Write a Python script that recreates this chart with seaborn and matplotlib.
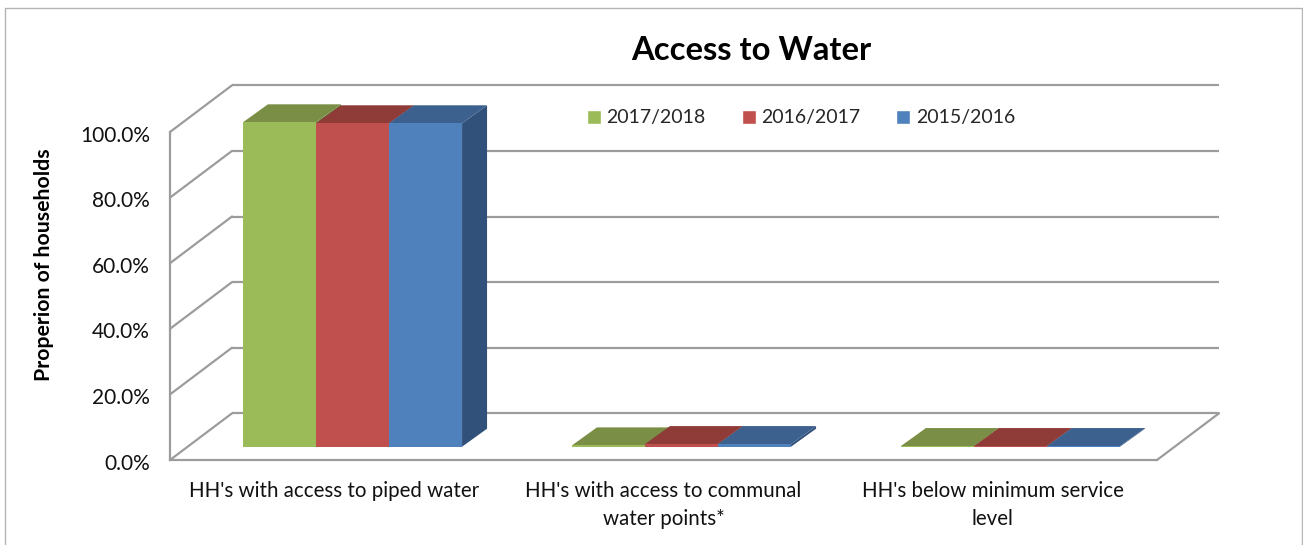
import pandas as pd
import matplotlib
matplotlib.use("Agg")
import matplotlib.pyplot as plt
import seaborn as sns
from matplotlib.lines import Line2D
from matplotlib.patches import Patch, Polygon
from matplotlib.transforms import ScaledTranslation

categories = ["HH's with access to piped water",
              "HH's with access to communal\nwater points*",
              "HH's below minimum service\nlevel"]
years = ["2017/2018", "2016/2017", "2015/2016"]
values_2017 = [98.9, 0.4, 0.2]
values_2016 = [98.6, 0.8, 0.2]
values_2015 = [98.6, 0.8, 0.2]
y_ticks = [0, 20, 40, 60, 80, 100]
y_labels = ["0.0%", "20.0%", "40.0%", "60.0%", "80.0%", "100.0%"]

front_colors = ["#9BBB59", "#C0504D", "#4F81BD"]
top_colors = ["#7A8F45", "#8F3C39", "#3C618F"]
side_colors = ["#667A3A", "#7A3230", "#31507A"]
line_color = "#9c9c9c"

sns.set_theme(style="white")
plt.rcParams['font.family'] = ['Lato', 'DejaVu Sans']

df = pd.DataFrame({
    'category': categories * 3,
    'year': [y for y in years for _ in categories],
    'value': values_2017 + values_2016 + values_2015,
})

fig = plt.figure(figsize=(13.03, 5.45), dpi=100)
ax = fig.add_axes([170 / 1303, 1 - 460 / 545, 987 / 1303, 328 / 545])

sns.barplot(data=df, x='category', y='value', hue='year', hue_order=years,
            palette=front_colors, width=0.666, gap=0, legend=False,
            saturation=1, ax=ax, zorder=5)
ax.set_xlim(-0.5, 2.5)
ax.set_ylim(0, 100)

# depth of the fake 3D, in data units
wall_dx = 62 / 329
wall_dy = 46.7 / 3.28
bar_shift_x = 18 / 329
bar_shift_y = 13.3 / 3.28
bar_dx = 25 / 329
bar_dy = 18 / 3.28

# back wall, side wall and floor
for t in y_ticks:
    ax.plot([-0.5 + wall_dx, 2.5 + wall_dx], [t + wall_dy, t + wall_dy], color=line_color,
            lw=1.6, clip_on=False, zorder=1, solid_capstyle='butt')
    ax.plot([-0.5, -0.5 + wall_dx], [t, t + wall_dy], color=line_color,
            lw=1.6, clip_on=False, zorder=1)
ax.plot([2.5, 2.5 + wall_dx], [0, wall_dy], color=line_color, lw=1.6, clip_on=False, zorder=1)

# bars: move to middle of floor, add top and side faces
for i, container in enumerate(ax.containers):
    for bar in container:
        bar.set_x(bar.get_x() + bar_shift_x)
        bar.set_y(bar_shift_y)
        bar.set_clip_on(False)
        bar.set_edgecolor('none')
        x0 = bar.get_x()
        x1 = x0 + bar.get_width()
        y0 = bar.get_y()
        y1 = y0 + bar.get_height()
        ax.add_patch(Polygon([(x1, y0), (x1 + bar_dx, y0 + bar_dy), (x1 + bar_dx, y1 + bar_dy), (x1, y1)],
                             facecolor=side_colors[i], edgecolor='none', clip_on=False, zorder=4))
        ax.add_patch(Polygon([(x0, y1), (x1, y1), (x1 + bar_dx, y1 + bar_dy), (x0 + bar_dx, y1 + bar_dy)],
                             facecolor=top_colors[i], edgecolor='none', clip_on=False, zorder=4.5))

sns.despine(ax=ax, top=True, right=True)
for s in ['left', 'bottom']:
    ax.spines[s].set_color(line_color)
    ax.spines[s].set_linewidth(1.6)
    ax.spines[s].set_zorder(2)

ax.set_yticks(y_ticks)
ax.set_yticklabels(y_labels)
ax.tick_params(axis='y', length=0, pad=14.4, labelsize=15, labelcolor='#111111')
ax.tick_params(axis='x', length=0, pad=15, labelsize=14.8, labelcolor='#111111')
for lab in ax.get_xticklabels():
    lab.set_linespacing(1.5)
# y labels sit a little under their tick in the original
for lab in ax.get_yticklabels():
    lab.set_transform(lab.get_transform() + ScaledTranslation(0, -0.015, fig.dpi_scale_trans))
ax.set_xlabel("")
ax.set_ylabel("")

fig.text(44 / 1303, 1 - 265 / 545, "Properion of households", rotation=90, ha='center', va='center',
         fontsize=15.3, fontweight='bold', color='black')
fig.text(751 / 1303, 1 - 50 / 545, "Access to Water", ha='center', va='center',
         fontsize=23.6, fontweight='bold', color='black')

handles = [Patch(facecolor=c, label=y) for c, y in zip(front_colors, years)]
fig.legend(handles=handles, ncols=3, frameon=False, loc='center left',
           bbox_to_anchor=(587 / 1303, 1 - 118 / 545), fontsize=14, borderpad=0, borderaxespad=0,
           handlelength=0.72, handleheight=0.72, handletextpad=0.28, columnspacing=1.85)

# chart frame, bottom edge is cut off in the picture
for xs, ys in [([5, 5], [545, 8]), ([5, 1302], [8, 8]), ([1302, 1302], [8, 545])]:
    fig.add_artist(Line2D([x / 1303 for x in xs], [1 - y / 545 for y in ys], color='#b5b5b5', lw=1.0))

fig.savefig("out.png", dpi=100)
